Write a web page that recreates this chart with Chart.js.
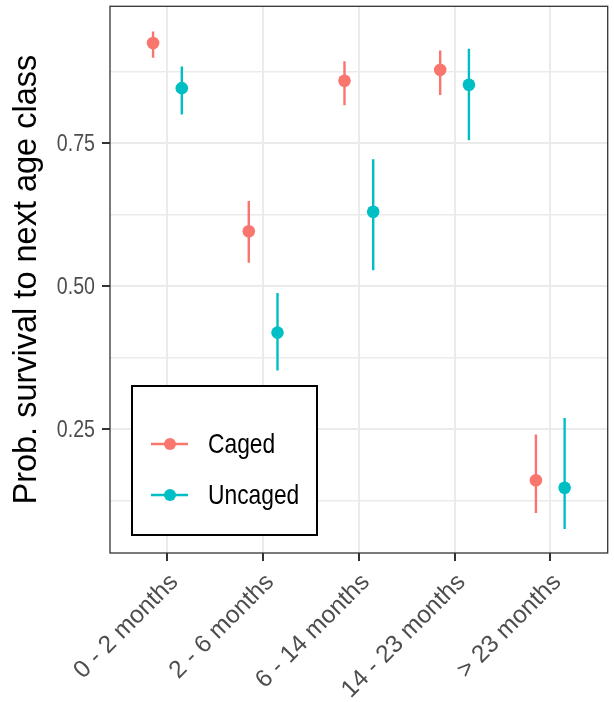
<!DOCTYPE html>
<html>
<head>
<meta charset="utf-8">
<script src="https://cdn.jsdelivr.net/npm/chart.js@4"></script>
<style>
html,body{margin:0;padding:0;background:#fff;}
#wrap{position:relative;width:614px;height:702px;}
</style>
</head>
<body>
<div id="wrap"><canvas id="c"></canvas></div>
<script>
const categories = ['0 - 2 months', '2 - 6 months', '6 - 14 months', '14 - 23 months', '> 23 months'];
const seriesNames = ['Caged', 'Uncaged'];
const cagedMean  = [0.925, 0.596, 0.859, 0.878, 0.161];
const cagedLower = [0.899, 0.541, 0.816, 0.834, 0.104];
const cagedUpper = [0.945, 0.649, 0.893, 0.912, 0.241];
const uncagedMean  = [0.846, 0.419, 0.630, 0.852, 0.148];
const uncagedLower = [0.800, 0.353, 0.528, 0.755, 0.076];
const uncagedUpper = [0.884, 0.488, 0.722, 0.915, 0.270];
const yMajorTicks = [0.25, 0.50, 0.75];
const yMinorTicks = [0.125, 0.375, 0.625, 0.875];
const yTickLabels = ['0.25', '0.50', '0.75'];
const yTitle = 'Prob. survival to next age class';

const COLORS = ['#F8766D', '#00BFC4'];
const DODGE = 0.15;
const BASE = '"Liberation Sans", Arial, sans-serif';
const SQUEEZE = 0.8;

function errSeries(xOff, lo, hi){
  const d = [];
  lo.forEach((v, i) => {
    d.push({x: i + xOff, y: v});
    d.push({x: i + xOff, y: hi[i]});
    d.push({x: i + xOff, y: null});
  });
  return d;
}
function ptSeries(xOff, m){ return m.map((v, i) => ({x: i + xOff, y: v})); }

function squeezedText(ctx, text, x, y, size, align, color){
  ctx.save();
  ctx.translate(x, y);
  ctx.scale(SQUEEZE, 1);
  ctx.font = size + 'px ' + BASE;
  ctx.fillStyle = color;
  ctx.textBaseline = 'middle';
  ctx.textAlign = align;
  ctx.fillText(text, 0, 0);
  ctx.restore();
}

const panelPlugin = {
  id: 'panel',
  afterDatasetsDraw(chart){
    const {ctx, chartArea: a} = chart;
    ctx.save();
    ctx.strokeStyle = '#333333';
    ctx.lineWidth = 1.3;
    ctx.strokeRect(a.left, a.top, a.right - a.left, a.bottom - a.top);
    ctx.restore();
  }
};

const yLabelPlugin = {
  id: 'yLabels',
  afterDraw(chart){
    const ys = chart.scales.y;
    const ctx = chart.ctx;
    yMajorTicks.forEach((v, i) => {
      squeezedText(ctx, yTickLabels[i], ys.right - 15, ys.getPixelForValue(v) + 1, 24.5, 'right', '#4D4D4D');
    });
  }
};

const legendPlugin = {
  id: 'boxLegend',
  afterDraw(chart){
    const {ctx, chartArea: a} = chart;
    const x0 = a.left + 22, x1 = a.left + 207;
    const y0 = a.bottom - 167, y1 = a.bottom - 18;
    ctx.save();
    ctx.fillStyle = '#ffffff';
    ctx.fillRect(x0, y0, x1 - x0, y1 - y0);
    ctx.strokeStyle = '#000000';
    ctx.lineWidth = 2;
    ctx.strokeRect(x0, y0, x1 - x0, y1 - y0);
    const rows = [y0 + 58, y0 + 109];
    seriesNames.forEach((name, i) => {
      const y = rows[i];
      ctx.strokeStyle = COLORS[i];
      ctx.lineWidth = 2.5;
      ctx.beginPath();
      ctx.moveTo(x0 + 19, y); ctx.lineTo(x0 + 56, y); ctx.stroke();
      ctx.fillStyle = COLORS[i];
      ctx.beginPath(); ctx.arc(x0 + 38, y, 6, 0, Math.PI * 2); ctx.fill();
      squeezedText(ctx, name, x0 + 76, y + 1, 28.5, 'left', '#000000');
    });
    ctx.restore();
  }
};

new Chart(document.getElementById('c'), {
  type: 'scatter',
  data: {
    datasets: [
      {label: seriesNames[0] + ' interval', data: errSeries(-DODGE, cagedLower, cagedUpper), showLine: true, spanGaps: false,
       borderColor: COLORS[0], borderWidth: 2.4, pointRadius: 0, order: 2},
      {label: seriesNames[1] + ' interval', data: errSeries(DODGE, uncagedLower, uncagedUpper), showLine: true, spanGaps: false,
       borderColor: COLORS[1], borderWidth: 2.4, pointRadius: 0, order: 2},
      {label: seriesNames[0], data: ptSeries(-DODGE, cagedMean), backgroundColor: COLORS[0], borderColor: COLORS[0],
       pointRadius: 6.3, borderWidth: 0, order: 1},
      {label: seriesNames[1], data: ptSeries(DODGE, uncagedMean), backgroundColor: COLORS[1], borderColor: COLORS[1],
       pointRadius: 6.3, borderWidth: 0, order: 1}
    ]
  },
  options: {
    responsive: true,
    maintainAspectRatio: false,
    animation: false,
    devicePixelRatio: 1,
    layout: {padding: {top: 5, right: 4, left: 0, bottom: 0}},
    plugins: {legend: {display: false}, tooltip: {enabled: false}},
    scales: {
      x: {
        type: 'linear',
        min: -0.6, max: 4.6,
        afterBuildTicks(s){ s.ticks = categories.map((c, i) => ({value: i})); },
        afterFit(s){ s.height = 149; s.paddingLeft = 0; s.paddingRight = 0; },
        ticks: {
          autoSkip: false, maxRotation: 45, minRotation: 45,
          color: '#4D4D4D', padding: 7, labelOffset: 7,
          font: {family: BASE, size: 24.5},
          callback: (v) => categories[v]
        },
        grid: {color: '#EBEBEB', lineWidth: 2, tickLength: 8, tickColor: '#333333', tickWidth: 2},
        border: {display: false}
      },
      y: {
        type: 'linear',
        min: 0.034, max: 0.989,
        afterBuildTicks(s){
          s.ticks = yMajorTicks.concat(yMinorTicks).sort((p, q) => p - q).map(v => ({value: v}));
        },
        afterFit(s){ s.width = 110; s.paddingTop = 0; s.paddingBottom = 0; },
        ticks: {display: false},
        grid: {
          color: '#EBEBEB',
          lineWidth: (c) => (c.tick && yMajorTicks.includes(c.tick.value)) ? 2 : 1.4,
          tickLength: 8,
          tickColor: (c) => (c.tick && yMajorTicks.includes(c.tick.value)) ? '#333333' : 'rgba(0,0,0,0)',
          tickWidth: 2
        },
        border: {display: false},
        title: {
          display: true, text: yTitle, color: '#000000',
          font: {family: BASE, size: 32.5}, padding: {top: 8, bottom: 0}
        }
      }
    }
  },
  plugins: [panelPlugin, yLabelPlugin, legendPlugin]
});
</script>
</body>
</html>
